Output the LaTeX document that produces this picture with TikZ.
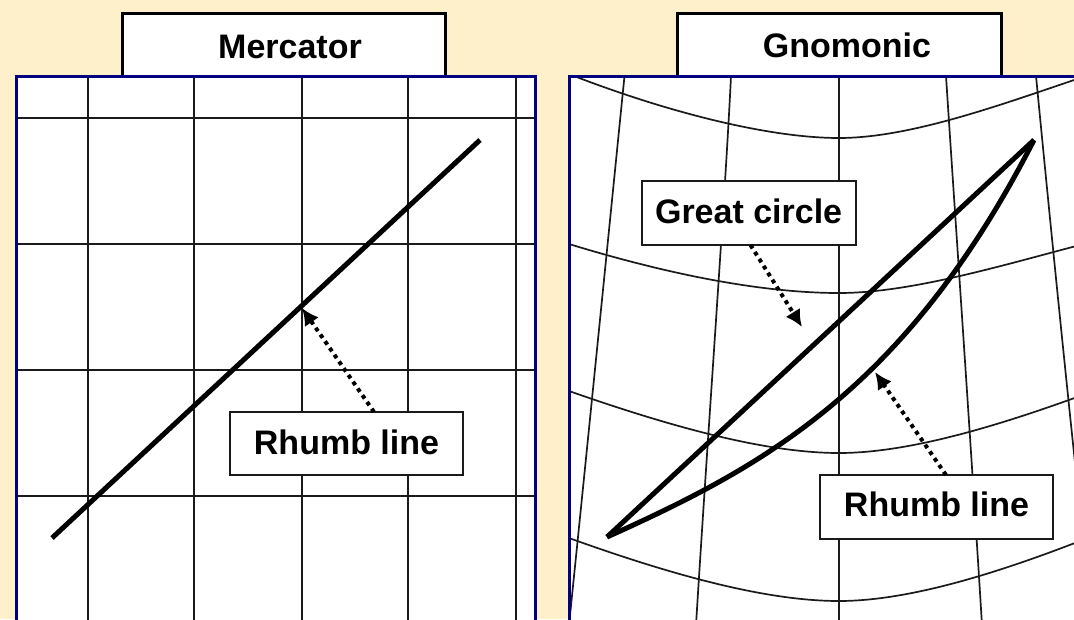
\documentclass[tikz,border=0pt]{standalone}
\usepackage{fontspec}
\setsansfont{Liberation Sans}
\usetikzlibrary{arrows.meta}
\definecolor{MapPaper}{HTML}{FDF0CB}
\definecolor{MapFrame}{HTML}{000080}
\definecolor{MapInk}{HTML}{000000}
\definecolor{MapGrid}{HTML}{1A1A1A}
\tikzset{
  every node/.style={font=\sffamily\bfseries\fontsize{34}{36}\selectfont, text=MapInk},
  tabbox/.style={draw=MapInk, fill=white, line width=3pt},
  mapframe/.style={draw=MapFrame, line width=3pt},
  gridline/.style={draw=MapGrid, line width=1.7pt},
  track/.style={draw=MapInk, line width=5pt, line join=round},
  labelbox/.style={draw=MapGrid, fill=white, line width=1.8pt, inner sep=0pt},
  pointer/.style={-{Latex[length=17pt,width=17pt]}, draw=MapInk, line width=4pt, dash pattern=on 4pt off 4.2pt},
}

\begin{document}
\begin{tikzpicture}[x=1pt,y=-1pt]
  \fill[MapPaper] (0,0) rectangle (1074,619);
  \clip (0,0) rectangle (1074,619);

  % Mercator: tab, sheet and straight grid
  \draw[tabbox] (122,13) rectangle (445,78);
  \node (titleMercator) at (290,47) {Mercator};
  \fill[white] (16,76) rectangle (535,630);
  \foreach \gridx in {88,194,302,408,516}
    \draw[gridline] (\gridx,76) -- (\gridx,630);
  \foreach \gridy in {118,244,370,496}
    \draw[gridline] (16,\gridy) -- (535,\gridy);
  \draw[mapframe] (16,76) rectangle (535,630);

  % Rhumb line on the Mercator sheet
  \coordinate (mercStart) at (52,538);
  \coordinate (mercEnd) at (480,140);
  \draw[track] (mercStart) -- (mercEnd);
  \node[labelbox, minimum width=233pt, minimum height=63pt, text depth=3pt] (labelMercRhumb) at (346.5,443.5) {Rhumb line};
  \coordinate (mercTail) at (374,412);
  \coordinate (mercTip) at (302,308);
  \draw[pointer] (mercTail) -- (mercTip);

  % Gnomonic: tab, sheet and converging grid
  \draw[tabbox] (677,13) rectangle (1001,78);
  \node (titleGnomonic) at (847,45) {Gnomonic};
  \fill[white] (569,76) rectangle (1090,630);
  \draw[gridline] (624.5,76) .. controls (612,200) and (588,440) .. (569,625);
  \draw[gridline] (731,76) .. controls (725,200) and (708,430) .. (696,625);
  \draw[gridline] (839,76) -- (839,630);
  \draw[gridline] (946,76) .. controls (954,200) and (970,430) .. (982,625);
  \draw[gridline] (1036,76) .. controls (1050,220) and (1064,360) .. (1080,510);
  \draw[gridline] (574,76) .. controls (670,113) and (770,138) .. (839,138) .. controls (910,138) and (1000,105) .. (1080,78);
  \draw[gridline] (569,244) .. controls (680,278) and (770,293) .. (839,293) .. controls (910,293) and (1000,266) .. (1080,245);
  \draw[gridline] (569,391) .. controls (680,430) and (770,453) .. (839,453) .. controls (910,453) and (1000,425) .. (1080,396);
  \draw[gridline] (569,538) .. controls (680,578) and (770,601) .. (839,601) .. controls (910,601) and (1000,572) .. (1080,541);
  \draw[mapframe] (1090,76) -- (569,76) -- (569,630);

  % Great circle and rhumb line between the same two points
  \coordinate (gnomStart) at (607,537);
  \coordinate (gnomEnd) at (1034,140);
  \draw[track] (gnomStart) -- (gnomEnd);
  \draw[track] (gnomStart) .. controls (760,468) and (905,392) .. (gnomEnd);

  % Labels and their dotted pointers
  \node[labelbox, minimum width=214pt, minimum height=64pt, text depth=3pt] (labelGreat) at (748.6,213) {Great circle};
  \coordinate (greatTail) at (750.5,245);
  \coordinate (greatTip) at (802,327);
  \draw[pointer] (greatTail) -- (greatTip);
  \node[labelbox, minimum width=233pt, minimum height=64pt, text depth=6pt] (labelGnomRhumb) at (936.5,507) {Rhumb line};
  \coordinate (gnomTail) at (946,475);
  \coordinate (gnomTip) at (875,372);
  \draw[pointer] (gnomTail) -- (gnomTip);
\end{tikzpicture}
\end{document}
